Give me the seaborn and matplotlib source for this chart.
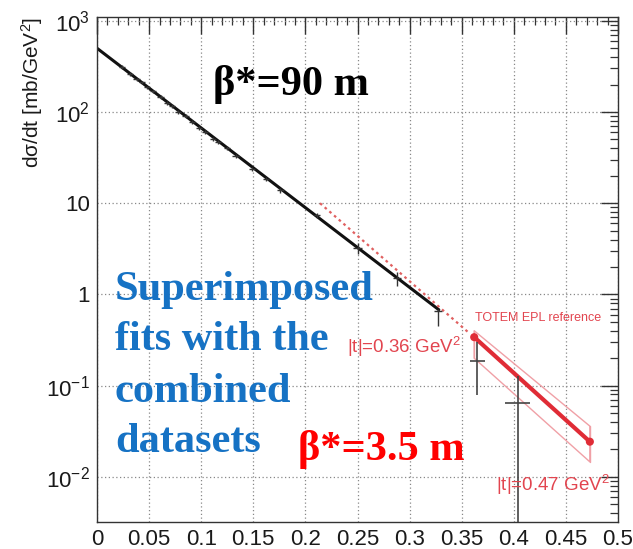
import numpy as np
import pandas as pd
import matplotlib
matplotlib.use("Agg")
import matplotlib.pyplot as plt
import seaborn as sns
from matplotlib.ticker import FixedLocator, FixedFormatter, MultipleLocator, LogLocator, NullFormatter

# ---------------- data ----------------
# beta*=90 m measured points
t90 = [0.024, 0.032, 0.038, 0.043, 0.048, 0.054, 0.061, 0.067, 0.072, 0.078,
       0.085, 0.091, 0.098, 0.104, 0.111, 0.116, 0.125, 0.133, 0.149, 0.162,
       0.176, 0.211, 0.250, 0.288, 0.327]
y90 = [310, 262, 228, 212, 186, 168, 146, 126, 117, 101,
       90, 78, 67, 61, 51, 47, 40, 33, 24, 18.5,
       13.8, 7.4, 3.2, 1.5, 0.65]
y90_lo = [14, 12, 10, 9, 8, 7, 6, 6, 5, 5,
          4, 4, 3, 3, 2.5, 2.5, 2, 1.6, 1.2, 1.0,
          0.8, 0.5, 0.45, 0.25, 0.20]
y90_hi = [14, 12, 10, 9, 8, 7, 6, 6, 5, 5,
          4, 4, 3, 3, 2.5, 2.5, 2, 1.6, 1.2, 1.0,
          0.8, 0.5, 0.45, 0.25, 0.05]
t90_err = [0.003] * 21 + [0.003, 0.004, 0.004, 0.004]

# beta*=3.5 m measured points
t35 = [0.365, 0.404]
y35 = [0.184, 0.065]
y35_lo = [0.106, 0.062]
y35_hi = [0.116, 0.064]
t35_err = [0.007, 0.012]

# exponential fit (90 m) and its extrapolation
fit_t = [0.0, 0.328]
fit_y = [500.0, 0.68]
extrap_t = [0.214, 0.358]
extrap_y = [10.0, 0.37]

# TOTEM EPL reference line and band
epl_t = [0.362, 0.473]
epl_y = [0.34, 0.0243]
band_t = [0.362, 0.473]
band_hi = [0.40, 0.036]
band_lo = [0.20, 0.0146]

x_ticks = [0, 0.05, 0.1, 0.15, 0.2, 0.25, 0.3, 0.35, 0.4, 0.45, 0.5]
x_labels = ["0", "0.05", "0.1", "0.15", "0.2", "0.25", "0.3", "0.35", "0.4", "0.45", "0.5"]
y_ticks = [1e-2, 1e-1, 1, 10, 1e2, 1e3]
y_labels = ["10$^{-2}$", "10$^{-1}$", "1", "10", "10$^{2}$", "10$^{3}$"]

note_lines = ["Superimposed", "fits with the", "combined", "datasets"]

# ---------------- style ----------------
sns.set_style("white")
plt.rcParams["font.family"] = ["Liberation Sans", "DejaVu Sans"]
plt.rcParams["mathtext.fontset"] = "custom"
plt.rcParams["mathtext.rm"] = "Liberation Sans"
plt.rcParams["mathtext.it"] = "Liberation Sans:italic"
plt.rcParams["mathtext.bf"] = "Liberation Sans:bold"

W, H = 633, 549
fig = plt.figure(figsize=(W / 100, H / 100), dpi=100)
ax = fig.add_axes([97 / W, 1 - 522 / H, (618 - 97) / W, (522 - 17) / H])

red_light = "#e2454f"

# band
ax.fill_between(band_t, band_lo, band_hi, color="none", edgecolor="#f0a0a6", linewidth=1.0)
ax.plot([band_t[0], band_t[0]], [band_lo[0], band_hi[0]], color="#f0a0a6", lw=1.0)
ax.plot([band_t[1], band_t[1]], [band_lo[1], band_hi[1]], color="#f0a0a6", lw=1.0)

# fits via seaborn
df_fit = pd.DataFrame({"t": fit_t, "y": fit_y})
sns.lineplot(data=df_fit, x="t", y="y", ax=ax, color="#111111", lw=2.2)
df_ext = pd.DataFrame({"t": extrap_t, "y": extrap_y})
sns.lineplot(data=df_ext, x="t", y="y", ax=ax, color="#e06060", lw=1.6, linestyle=(0, (1.2, 1.6)))
df_epl = pd.DataFrame({"t": epl_t, "y": epl_y})
sns.lineplot(data=df_epl, x="t", y="y", ax=ax, color="#e02c36", lw=3.0)
sns.scatterplot(data=df_epl, x="t", y="y", ax=ax, color="#e02c36", s=34, edgecolor="none", zorder=5)

# data points with error bars
ax.errorbar(t90, y90, yerr=[y90_lo, y90_hi], xerr=t90_err, fmt="none",
            ecolor="#333333", elinewidth=1.0, capsize=0)
ax.errorbar(t35, y35, yerr=[y35_lo, y35_hi], xerr=t35_err, fmt="none",
            ecolor="#444444", elinewidth=1.2, capsize=0)

# ---------------- axes ----------------
ax.set_yscale("log")
ax.set_xlim(0, 0.5)
ax.set_ylim(3.2e-3, 1.1e3)

ax.xaxis.set_major_locator(FixedLocator(x_ticks))
ax.xaxis.set_major_formatter(FixedFormatter(x_labels))
ax.xaxis.set_minor_locator(MultipleLocator(0.01))
ax.yaxis.set_major_locator(FixedLocator(y_ticks))
ax.yaxis.set_major_formatter(FixedFormatter(y_labels))
ax.yaxis.set_minor_locator(LogLocator(base=10, subs=np.arange(2, 10), numticks=20))
ax.yaxis.set_minor_formatter(NullFormatter())

ax.tick_params(which="both", direction="in", top=True, right=True, color="#333333")
ax.tick_params(which="major", length=12, width=1.0, labelsize=16, pad=5, labelcolor="#1a1a1a")
ax.tick_params(which="minor", length=6, width=0.9)
for sp in ax.spines.values():
    sp.set_color("#333333")
    sp.set_linewidth(1.0)

ax.grid(True, which="major", color="#888888", linestyle=(0, (1, 2)), linewidth=0.9)
ax.set_axisbelow(True)

ax.set_xlabel("")
ax.set_ylabel("dσ/dt [mb/GeV$^{2}$]", fontsize=15, loc="top", labelpad=1, color="#1a1a1a")

# ---------------- annotations ----------------
serif = ["Liberation Serif", "DejaVu Serif"]
fig.text(213 / W, 1 - 95 / H, "β*=90 m", fontsize=30.5, fontweight="bold",
         family=serif, color="#000000", va="baseline", ha="left")
fig.text(298 / W, 1 - 460 / H, "β*=3.5 m", fontsize=30.5, fontweight="bold",
         family=serif, color="#ff0000", va="baseline", ha="left")
for line, base in zip(note_lines, [300, 350, 402, 452]):
    fig.text(115 / W, 1 - base / H, line, fontsize=30.5, fontweight="bold",
             family=serif, color="#1672c4", va="baseline", ha="left")

fig.text(538 / W, 1 - 318 / H, "TOTEM EPL reference", fontsize=9,
         color=red_light, ha="center", va="center")
fig.text(404 / W, 1 - 347 / H, "|t|=0.36 GeV$^{2}$", fontsize=13.5,
         color=red_light, ha="center", va="center")
fig.text(553 / W, 1 - 485 / H, "|t|=0.47 GeV$^{2}$", fontsize=13.5,
         color=red_light, ha="center", va="center")

fig.savefig("out.png", dpi=100)
